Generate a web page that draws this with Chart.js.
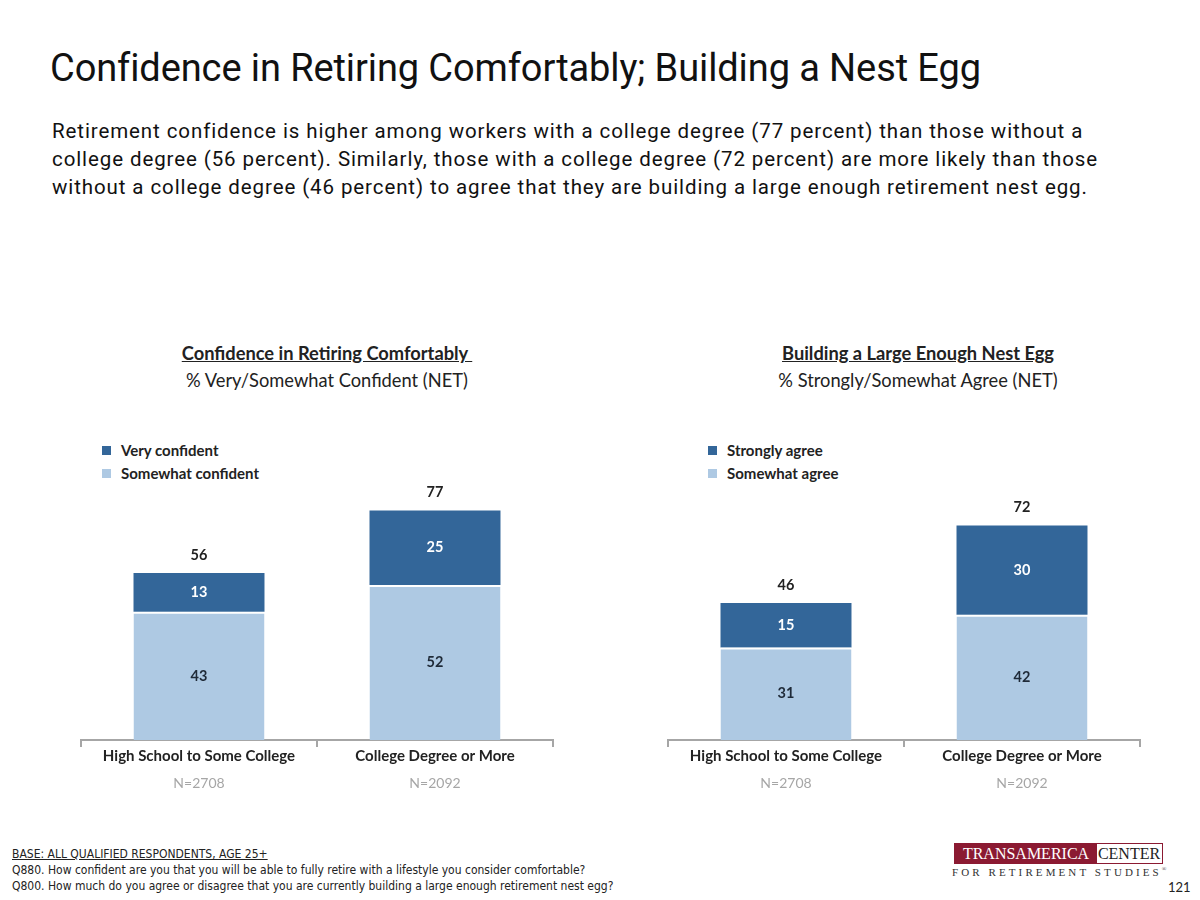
<!DOCTYPE html>
<html>
<head>
<meta charset="utf-8">
<script src="https://cdn.jsdelivr.net/npm/chart.js@4.4.1/dist/chart.umd.min.js"></script>
<style>
  body { margin: 0; background: #fff; width: 1200px; height: 900px; position: relative; overflow: hidden; font-family: Roboto, sans-serif; color: #000; }
  .abs { position: absolute; white-space: nowrap; }
  #title { left: 50px; top: 46px; font-size: 38px; letter-spacing: -0.1px; color: #111; }
  #lead { left: 52px; top: 117px; font-size: 20.5px; line-height: 28px; letter-spacing: 0.9px; color: #111; }
  .ctitle { font-family: Lato, sans-serif; font-size: 18.3px; text-align: center; width: 480px; line-height: 27px; color: #222; }
  .ctitle b { text-decoration: underline; }
  .legend { font-family: Lato, sans-serif; font-weight: bold; font-size: 15px; color: #222; line-height: 23px; }
  .legend span.sw { display: inline-block; width: 9px; height: 9px; margin-right: 10px; vertical-align: 1px; }
  .chartbox { position: absolute; }
  #foot { left: 12px; top: 846px; font-family: "Liberation Sans Narrow", "DejaVu Sans Condensed", sans-serif; font-size: 12px; line-height: 16px; color: #222; }
  #foot u { text-decoration: underline; }
</style>
</head>
<body>
<div id="title" class="abs">Confidence in Retiring Comfortably; Building a Nest Egg</div>
<div id="lead" class="abs">Retirement confidence is higher among workers with a college degree (77 percent) than those without a<br>college degree (56 percent). Similarly, those with a college degree (72 percent) are more likely than those<br>without a college degree (46 percent) to agree that they are building a large enough retirement nest egg.</div>

<div class="abs ctitle" style="left:87px; top:340px;"><b>Confidence in Retiring Comfortably&nbsp;</b><br>% Very/Somewhat Confident (NET)</div>
<div class="abs ctitle" style="left:678px; top:340px;"><b>Building a Large Enough Nest Egg</b><br>% Strongly/Somewhat Agree (NET)</div>

<div class="abs legend" style="left:102px; top:439px;" id="legend1"></div>
<div class="abs legend" style="left:708px; top:439px;" id="legend2"></div>

<div class="chartbox" style="left:79px; top:428px; width:476px; height:380px;"><canvas id="chart1"></canvas></div>
<div class="chartbox" style="left:666px; top:428px; width:476px; height:380px;"><canvas id="chart2"></canvas></div>

<div id="foot" class="abs"><u>BASE: ALL QUALIFIED RESPONDENTS, AGE 25+</u><br>Q880. How confident are you that you will be able to fully retire with a lifestyle you consider comfortable?<br>Q800. How much do you agree or disagree that you are currently building a large enough retirement nest egg?</div>

<div class="abs" style="left:954px; top:843px; width:209px; height:21px; border:1px solid #8b1a32; box-sizing:border-box; font-family:'Liberation Serif', serif; font-size:16px; line-height:19px;">
  <span style="display:inline-block; background:#8b1a32; color:#fff; width:142px; text-align:center;">TRANSAMERICA</span><span style="display:inline-block; color:#222; width:64px; text-align:center;">CENTER</span>
</div>
<div class="abs" style="left:952px; top:866px; font-family:'Liberation Serif', serif; font-size:11px; letter-spacing:3.1px; color:#333;">FOR RETIREMENT STUDIES<sup style="font-size:6px; letter-spacing:0;">®</sup></div>
<div class="abs" style="left:1168px; top:879px; font-family:Lato, sans-serif; font-size:13px; color:#222;">121</div>

<script>
const categories = ['High School to Some College', 'College Degree or More'];
const sampleSizes = ['N=2708', 'N=2092'];

const confidenceLabels = ['Somewhat confident', 'Very confident'];
const somewhatConfident = [43, 52];
const veryConfident = [13, 25];
const confidenceTotals = [56, 77];

const agreeLabels = ['Somewhat agree', 'Strongly agree'];
const somewhatAgree = [31, 42];
const stronglyAgree = [15, 30];
const agreeTotals = [46, 72];

const LIGHT = '#aec9e3';
const DARK = '#336699';

function buildLegend(id, labels) {
    const el = document.getElementById(id);
    el.innerHTML =
        '<div><span class="sw" style="background:' + DARK + '"></span>' + labels[1] + '</div>' +
        '<div><span class="sw" style="background:' + LIGHT + '"></span>' + labels[0] + '</div>';
}

const barLabels = {
    id: 'barLabels',
    afterDatasetsDraw(chart, args, opts) {
        const ctx = chart.ctx;
        ctx.save();
        ctx.font = 'bold 14.5px Lato, sans-serif';
        ctx.textAlign = 'center';
        ctx.textBaseline = 'middle';
        chart.data.datasets.forEach((ds, di) => {
            const meta = chart.getDatasetMeta(di);
            meta.data.forEach((bar, i) => {
                ctx.fillStyle = di === 0 ? '#1f2a38' : '#ffffff';
                ctx.fillText(ds.data[i], bar.x, (bar.y + bar.base) / 2);
            });
        });
        const top = chart.getDatasetMeta(chart.data.datasets.length - 1);
        top.data.forEach((bar, i) => {
            ctx.fillStyle = '#222';
            ctx.fillText(opts.totals[i], bar.x, bar.y - 18);
        });
        ctx.font = '14px Lato, sans-serif';
        ctx.fillStyle = '#a6a6a6';
        const xs = chart.scales.x;
        sampleSizes.forEach((n, i) => {
            ctx.fillText(n, xs.getPixelForValue(i), chart.chartArea.bottom + 43);
        });
        ctx.restore();
    }
};

function makeChart(id, labels, lower, upper, totals) {
    return new Chart(document.getElementById(id), {
        type: 'bar',
        data: {
            labels: categories,
            datasets: [{
                label: labels[0],
                data: lower,
                backgroundColor: LIGHT,
                borderColor: '#ffffff',
                borderWidth: { top: 2, left: 0, right: 0, bottom: 0 },
                borderSkipped: false
            }, {
                label: labels[1],
                data: upper,
                backgroundColor: DARK,
                borderWidth: 0
            }]
        },
        options: {
            responsive: true,
            maintainAspectRatio: false,
            animation: false,
            layout: { padding: { top: 14, left: 2, right: 2, bottom: 43 } },
            datasets: { bar: { categoryPercentage: 1, barPercentage: 0.555 } },
            plugins: {
                legend: { display: false },
                tooltip: { enabled: false },
                barLabels: { totals: totals }
            },
            scales: {
                x: {
                    stacked: true,
                    grid: { offset: true, drawOnChartArea: false, drawTicks: true, tickLength: 7, color: '#a6a6a6', lineWidth: 2 },
                    border: { display: true, color: '#a6a6a6', width: 2 },
                    ticks: { color: '#222', font: { family: 'Lato, sans-serif', size: 15, weight: 'bold' }, padding: 0 }
                },
                y: { stacked: true, display: false, min: 0, max: 100 }
            }
        },
        plugins: [barLabels]
    });
}

buildLegend('legend1', confidenceLabels);
buildLegend('legend2', agreeLabels);
makeChart('chart1', confidenceLabels, somewhatConfident, veryConfident, confidenceTotals);
makeChart('chart2', agreeLabels, somewhatAgree, stronglyAgree, agreeTotals);
</script>
</body>
</html>
